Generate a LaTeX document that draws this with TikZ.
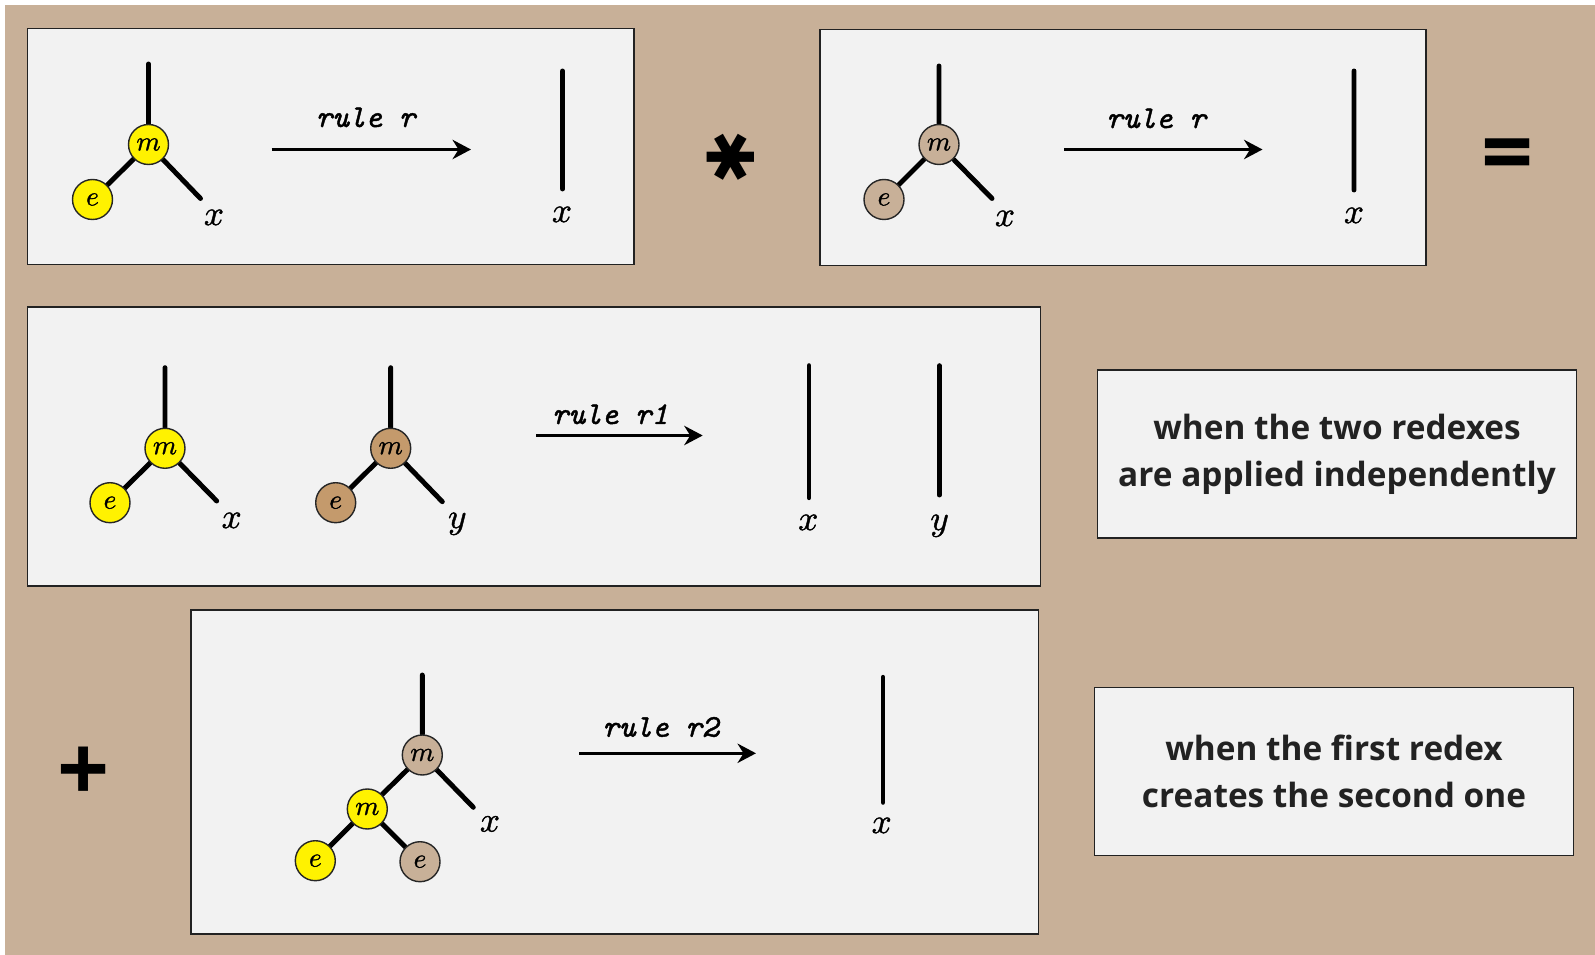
\documentclass[tikz,border=0pt]{standalone}
\usepackage{fontspec}
\newfontfamily\notefont{Open Sans}
\newfontfamily\starfont{DejaVu Sans}
\newfontfamily\rulefont{lmmono10-italic.otf}[FakeBold=1.3]
\newfontfamily\letterfont{latinmodern-math.otf}[FakeBold=1.2]
\usetikzlibrary{arrows.meta}
\definecolor{bgtan}{RGB}{200,176,152}
\definecolor{nodebrown}{RGB}{196,154,108}
\definecolor{panelgray}{RGB}{242,242,242}
\definecolor{inkgray}{RGB}{34,34,34}
\pgfdeclarelayer{back}
\pgfdeclarelayer{wires}
\pgfsetlayers{back,wires,main}

\begin{document}
\begin{tikzpicture}[x=0.02cm, y=-0.02cm,
  panel/.style={draw=inkgray, fill=panelgray, line width=0.9pt, inner sep=0pt},
  op/.style={circle, draw=black!85, line width=0.8pt, minimum size=0.8cm, inner sep=0pt, font=\letterfont\fontsize{15.6}{15.6}\selectfont},
  yel/.style={op, fill=yellow},
  tan/.style={op, fill=bgtan},
  brn/.style={op, fill=nodebrown},
  wire/.style={line width=2.8pt, line cap=round},
  rulearrow/.style={-{Stealth[length=10.5pt, width=11pt]}, line width=2pt},
  rulelbl/.style={anchor=base, inner sep=0pt, font=\rulefont\fontsize{18}{18}\selectfont},
  leaf/.style={anchor=base, inner sep=0pt, font=\letterfont\fontsize{20}{20}\selectfont},
  note/.style={panel, minimum width=9.58cm, minimum height=3.36cm, align=center, text=inkgray, font=\notefont\bfseries\fontsize{19}{26.6}\selectfont},
  sym/.style={inner sep=0pt, font=\notefont\bfseries\fontsize{52}{52}\selectfont}]
  \useasboundingbox (0,0) rectangle (1595,955);
  \begin{pgfonlayer}{back}
    \fill[white] (0,0) rectangle (1595,955);
    \fill[bgtan] (5,5) rectangle (1595,955);
    \node[panel, minimum width=12.13cm, minimum height=4.72cm] (p1) at (330.75,146.5) {};
    \node[panel, minimum width=12.12cm, minimum height=4.72cm] (p2) at (1123,147.5) {};
    \node[panel, minimum width=20.26cm, minimum height=5.58cm] (p3) at (534,446.5) {};
    \node[panel, minimum width=16.95cm, minimum height=6.48cm] (p4) at (614.75,772) {};
  \end{pgfonlayer}

  % top left: rule r on a yellow redex
  \node[yel] (m1) at (148.5,144.5) {𝑚};
  \node[yel] (e1) at (92.5,199.5) {𝑒};
  \coordinate (t1) at (148.5,64);
  \coordinate (l1) at (200.5,198.5);
  \node[leaf] (x1) at (214,225) {𝑥};
  \coordinate (a1) at (271.5,149.5);
  \coordinate (b1) at (471,149.5);
  \node[rulelbl] (lab1) at (365.5,127) {rule r};
  \coordinate (o1a) at (562.5,71);
  \coordinate (o1b) at (562.5,189);
  \node[leaf] (x1r) at (562,222) {𝑥};

  \node[font=\starfont\fontsize{37}{37}\selectfont, inner sep=0pt, rotate=90] (times) at (731,157) {✱};

  % top right: rule r on a tan redex
  \node[tan] (m2) at (939,144.5) {𝑚};
  \node[tan] (e2) at (884,199.5) {𝑒};
  \coordinate (t2) at (939,66);
  \coordinate (l2) at (992,198.5);
  \node[leaf] (x2) at (1005,226) {𝑥};
  \coordinate (a2) at (1064,149.5);
  \coordinate (b2) at (1262.5,149.5);
  \node[rulelbl] (lab2) at (1156,128) {rule r};
  \coordinate (o2a) at (1354,71);
  \coordinate (o2b) at (1354,190);
  \node[leaf] (x2r) at (1354,223) {𝑥};

  \node[sym] (eq) at (1508,162) {=};

  % middle: two independent redexes
  \node[yel] (mA) at (165,448.3) {𝑚};
  \node[yel] (eA) at (110,502.7) {𝑒};
  \coordinate (tA) at (165,367.7);
  \coordinate (lA) at (216.7,501);
  \node[leaf] (xA) at (231.7,528) {𝑥};
  \node[brn] (mB) at (390.7,448.3) {𝑚};
  \node[brn] (eB) at (335.7,502.7) {𝑒};
  \coordinate (tB) at (390.7,367.7);
  \coordinate (lB) at (442.3,501.7);
  \node[leaf] (yB) at (456.7,528) {𝑦};
  \coordinate (a3) at (536,435.5);
  \coordinate (b3) at (702.7,435.5);
  \node[rulelbl] (lab3) at (610,424) {rule r1};
  \coordinate (o3a) at (809,365.7);
  \coordinate (o3b) at (809,497.7);
  \node[leaf] (x3r) at (808.3,530) {𝑥};
  \coordinate (o4a) at (939.3,365.7);
  \coordinate (o4b) at (939.3,495);
  \node[leaf] (y3r) at (939,530) {𝑦};
  \node[note] (n1) at (1337,454) {when the two redexes\\are applied independently};

  \node[sym] (plus) at (83.5,774) {+};

  % bottom: the first redex creates the second
  \node[tan] (mT) at (422.3,755) {𝑚};
  \node[yel] (mY) at (367.3,809) {𝑚};
  \node[yel] (eY) at (315.3,860.7) {𝑒};
  \node[tan] (eT) at (420,861.7) {𝑒};
  \coordinate (tT) at (422.3,675);
  \coordinate (lT) at (473.3,807.3);
  \node[leaf] (xT) at (490,831.5) {𝑥};
  \coordinate (a4) at (579,753.3);
  \coordinate (b4) at (756,753.3);
  \node[rulelbl] (lab4) at (660.4,736.7) {rule r2};
  \coordinate (o5a) at (883,677.3);
  \coordinate (o5b) at (883,802.3);
  \node[leaf] (x5r) at (881.7,833) {𝑥};
  \node[note] (n2) at (1334,771.5) {when the first redex\\creates the second one};

  \begin{pgfonlayer}{wires}
    \draw[wire] (t1) -- (m1) (m1) -- (e1) (m1) -- (l1) (o1a) -- (o1b);
    \draw[wire] (t2) -- (m2) (m2) -- (e2) (m2) -- (l2) (o2a) -- (o2b);
    \draw[wire] (tA) -- (mA) (mA) -- (eA) (mA) -- (lA);
    \draw[wire] (tB) -- (mB) (mB) -- (eB) (mB) -- (lB);
    \draw[wire] (o3a) -- (o3b) (o4a) -- (o4b);
    \draw[wire] (tT) -- (mT) (mT) -- (mY) (mT) -- (lT) (mY) -- (eY) (mY) -- (eT);
    \draw[wire] (o5a) -- (o5b);
  \end{pgfonlayer}
  \draw[rulearrow] (a1) -- (b1);
  \draw[rulearrow] (a2) -- (b2);
  \draw[rulearrow] (a3) -- (b3);
  \draw[rulearrow] (a4) -- (b4);
\end{tikzpicture}
\end{document}
